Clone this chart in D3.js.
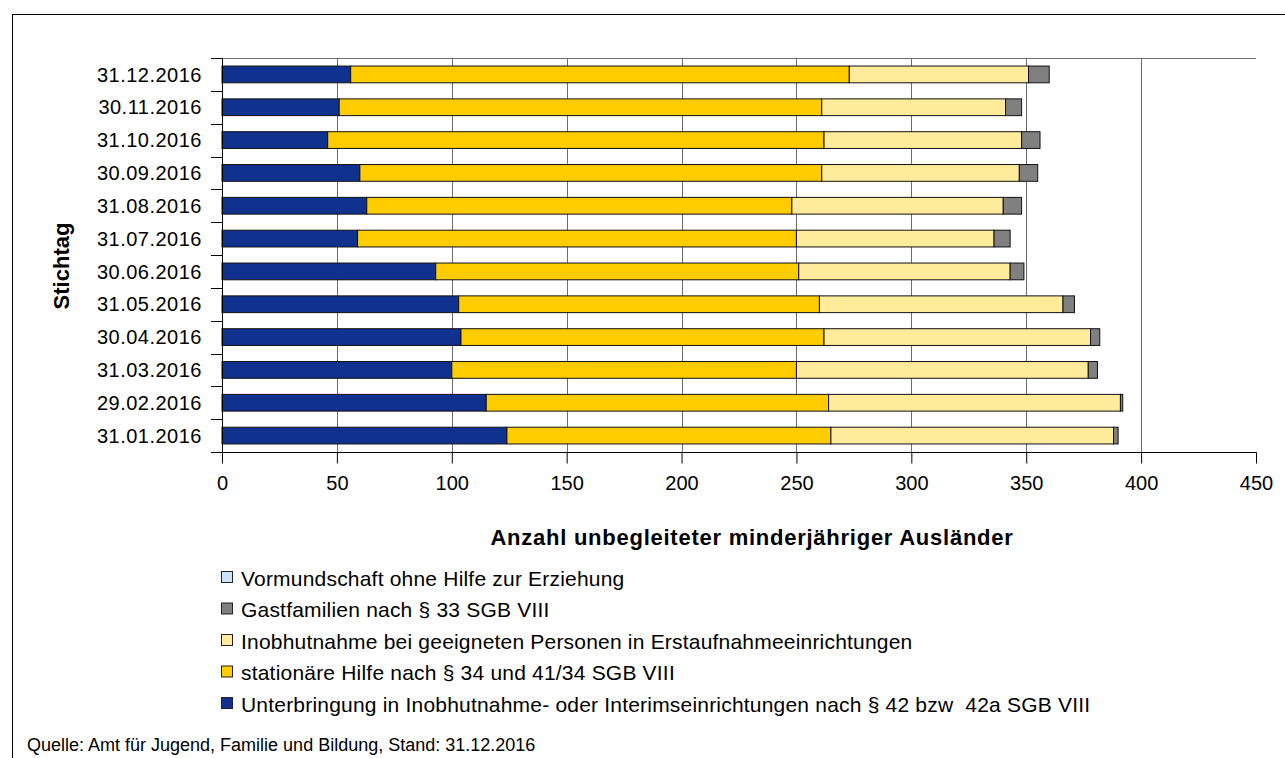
<!DOCTYPE html>
<html>
<head>
<meta charset="utf-8">
<script src="https://cdn.jsdelivr.net/npm/d3@7"></script>
<style>
  html, body { margin: 0; padding: 0; background: #fff; }
  svg { display: block; font-family: "Liberation Sans", Arial, sans-serif; }
  text { white-space: pre; }
</style>
</head>
<body>
<svg id="chart" width="1285" height="758"></svg>
<script>
// Stichtage, from January (bottom) to December (top)
const dates = ["31.01.2016","29.02.2016","31.03.2016","30.04.2016","31.05.2016","30.06.2016",
               "31.07.2016","31.08.2016","30.09.2016","31.10.2016","30.11.2016","31.12.2016"];

// Counts per placement type
const unterbringung = [124,115,100,104,103, 93, 59, 63, 60, 46, 51, 56];
const stationaer    = [141,149,150,158,157,158,191,185,201,216,210,217];
const inobhutnahme  = [123,127,127,116,106, 92, 86, 92, 86, 86, 80, 78];
const gastfamilien  = [  2,  1,  4,  4,  5,  6,  7,  8,  8,  8,  7,  9];
const vormundschaft = [  0,  0,  0,  0,  0,  0,  0,  0,  0,  0,  0,  0];

const seriesNames = [
  "Unterbringung in Inobhutnahme- oder Interimseinrichtungen nach § 42 bzw  42a SGB VIII",
  "stationäre Hilfe nach § 34 und 41/34 SGB VIII",
  "Inobhutnahme bei geeigneten Personen in Erstaufnahmeeinrichtungen",
  "Gastfamilien nach § 33 SGB VIII",
  "Vormundschaft ohne Hilfe zur Erziehung"
];
const seriesColors = ["#11318E", "#FFCC00", "#FFEB9C", "#808080", "#CFE3F8"];
const xTicks = [0, 50, 100, 150, 200, 250, 300, 350, 400, 450];

const seriesValues = [unterbringung, stationaer, inobhutnahme, gastfamilien, vormundschaft];
const keys = seriesValues.map((_, i) => "s" + i);
const rows = dates.map((d, i) => {
  const r = { date: d };
  seriesValues.forEach((vals, k) => { r[keys[k]] = vals[i]; });
  return r;
});

const svg = d3.select("#chart");
const plot = { left: 222, right: 1256, top: 58, bottom: 452 };

// outer frame
svg.append("rect")
  .attr("x", 12.5).attr("y", 14.5)
  .attr("width", 1300).attr("height", 800)
  .attr("fill", "none").attr("stroke", "#000").attr("stroke-width", 1);

const x = d3.scaleLinear().domain([0, 450]).range([plot.left, plot.right]);
const y = d3.scaleBand()
  .domain(dates.slice().reverse())
  .range([plot.top, plot.bottom])
  .paddingInner(0.49)
  .paddingOuter(0.245);

// vertical gridlines
svg.append("g")
  .selectAll("line")
  .data(xTicks.filter(t => t > 0 && t < 450))
  .join("line")
  .attr("x1", d => Math.round(x(d)) + 0.5).attr("x2", d => Math.round(x(d)) + 0.5)
  .attr("y1", plot.top).attr("y2", plot.bottom)
  .attr("stroke", "#6e6e6e").attr("stroke-width", 1);

// top edge of plot area
svg.append("line")
  .attr("x1", plot.left).attr("x2", plot.right)
  .attr("y1", plot.top + 0.5).attr("y2", plot.top + 0.5)
  .attr("stroke", "#6e6e6e");

// stacked bars
const stack = d3.stack().keys(keys);
const layers = stack(rows);
svg.append("g")
  .selectAll("g")
  .data(layers)
  .join("g")
  .attr("fill", (d, i) => seriesColors[i])
  .selectAll("rect")
  .data(d => d)
  .join("rect")
  .attr("x", d => x(d[0]))
  .attr("y", d => y(d.data.date))
  .attr("width", d => x(d[1]) - x(d[0]))
  .attr("height", y.bandwidth())
  .attr("stroke", d => (d[1] - d[0]) > 0 ? "#111" : "none")
  .attr("stroke-width", 1);

// y axis with ticks at band boundaries
const yAxisG = svg.append("g");
yAxisG.append("line")
  .attr("x1", plot.left + 0.5).attr("x2", plot.left + 0.5)
  .attr("y1", plot.top).attr("y2", plot.bottom + 1)
  .attr("stroke", "#000");
const boundaries = d3.range(dates.length + 1).map(i => plot.top + i * y.step());
yAxisG.selectAll("line.tick")
  .data(boundaries)
  .join("line")
  .attr("class", "tick")
  .attr("x1", plot.left - 11).attr("x2", plot.left)
  .attr("y1", d => Math.round(d) + 0.5).attr("y2", d => Math.round(d) + 0.5)
  .attr("stroke", "#000");
yAxisG.selectAll("text")
  .data(dates)
  .join("text")
  .attr("x", plot.left - 20)
  .attr("y", d => y(d) + y.bandwidth() / 2)
  .attr("dy", "0.36em")
  .attr("text-anchor", "end")
  .attr("font-size", 20)
  .attr("letter-spacing", 0.5)
  .attr("fill", "#000")
  .text(d => d);

// x axis
const xAxis = d3.axisBottom(x).tickValues(xTicks).tickSize(11).tickPadding(12).tickSizeOuter(0);
const xAxisG = svg.append("g")
  .attr("transform", `translate(0,${plot.bottom + 0.5})`)
  .call(xAxis);
xAxisG.select(".domain").remove();
xAxisG.append("line")
  .attr("x1", plot.left - 11).attr("x2", plot.right + 0.5)
  .attr("y1", 0).attr("y2", 0)
  .attr("stroke", "#000");
xAxisG.selectAll(".tick line").attr("stroke", "#000");
xAxisG.selectAll(".tick text")
  .attr("font-size", 20)
  .attr("font-family", "Liberation Sans, Arial, sans-serif")
  .attr("fill", "#000");

// axis titles
svg.append("text")
  .attr("x", 752).attr("y", 545)
  .attr("text-anchor", "middle")
  .attr("font-size", 22).attr("font-weight", "bold")
  .attr("letter-spacing", 0.75)
  .text("Anzahl unbegleiteter minderjähriger Ausländer");

svg.append("text")
  .attr("transform", "translate(69,266) rotate(-90)")
  .attr("text-anchor", "middle")
  .attr("font-size", 22).attr("font-weight", "bold")
  .text("Stichtag");

// legend, last series listed first
const legendOrder = d3.range(seriesNames.length).reverse();
const legend = svg.append("g");
const legendRows = legend.selectAll("g")
  .data(legendOrder)
  .join("g")
  .attr("transform", (d, i) => `translate(221,${578 + i * 31.5})`);
legendRows.append("rect")
  .attr("x", 0.5).attr("y", -6.5)
  .attr("width", 11).attr("height", 11)
  .attr("fill", d => seriesColors[d])
  .attr("stroke", "#222");
legendRows.append("text")
  .attr("x", 20).attr("y", 0)
  .attr("dy", "0.36em")
  .attr("font-size", 21)
  .attr("letter-spacing", 0.2)
  .text(d => seriesNames[d]);

// source note
svg.append("text")
  .attr("x", 27).attr("y", 745)
  .attr("dy", "0.36em")
  .attr("font-size", 18)
  .text("Quelle: Amt für Jugend, Familie und Bildung, Stand: 31.12.2016");
</script>
</body>
</html>
